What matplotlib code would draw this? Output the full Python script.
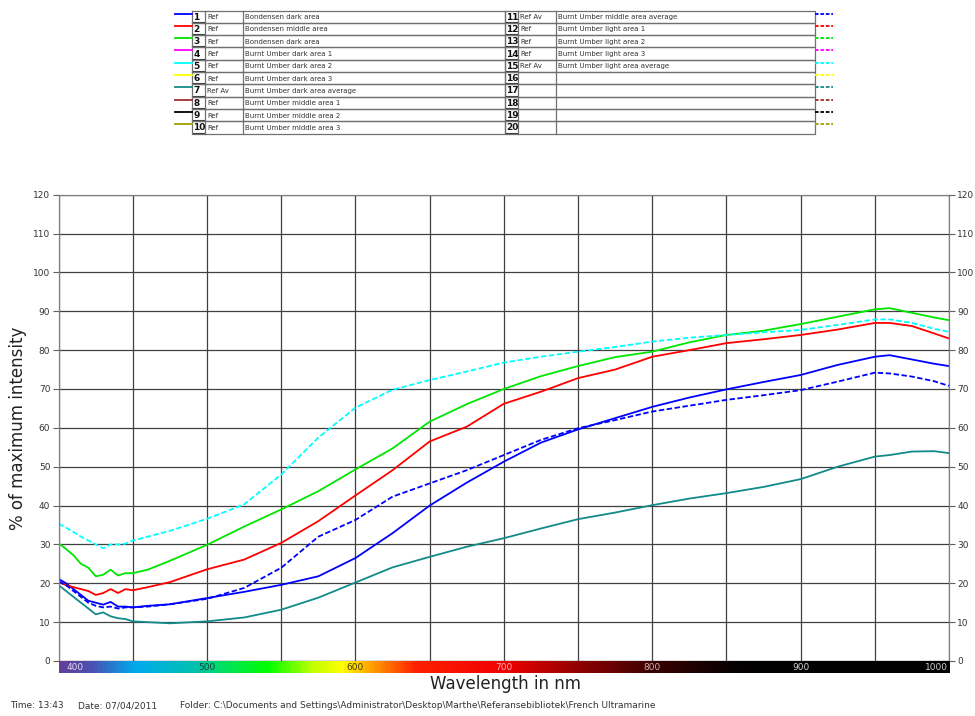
import numpy as np
import matplotlib
matplotlib.use('Agg')
import matplotlib.pyplot as plt
from matplotlib.colors import LinearSegmentedColormap

# wavelength sample points (nm)
wl = [400, 405, 410, 415, 420, 425, 430, 435, 440, 445, 450, 460, 475, 500, 525,
      550, 575, 600, 625, 650, 675, 700, 725, 750, 775, 800, 825, 850, 875, 900,
      925, 950, 960, 975, 990, 1000]

# visible series (% of maximum intensity)
bondensen_dark = [21.1, 20.0, 18.5, 17.0, 15.5, 15.0, 14.5, 15.2, 14.0, 14.0, 13.8, 14.2, 14.6, 16.2, 17.8,
                  19.6, 21.8, 26.5, 32.9, 40.0, 45.9, 51.3, 56.2, 59.6, 62.5, 65.4, 67.8, 69.9, 71.8, 73.6,
                  76.2, 78.3, 78.7, 77.6, 76.5, 75.9]
bondensen_middle = [20.3, 19.5, 19.0, 18.5, 18.0, 17.0, 17.5, 18.5, 17.5, 18.5, 18.2, 19.0, 20.3, 23.6, 26.1,
                    30.4, 36.0, 42.6, 49.1, 56.5, 60.3, 66.2, 69.3, 72.8, 75.0, 78.3, 80.0, 81.8, 82.8, 83.9,
                    85.3, 87.0, 87.0, 86.2, 84.3, 83.0]
bondensen_dark2 = [30.3, 28.8, 27.2, 25.0, 24.0, 21.8, 22.2, 23.5, 22.0, 22.6, 22.6, 23.5, 25.8, 29.9, 34.6,
                   39.0, 43.7, 49.3, 54.7, 61.6, 66.1, 70.0, 73.3, 75.9, 78.2, 79.6, 82.0, 83.9, 85.0, 86.7,
                   88.6, 90.5, 90.8, 89.6, 88.4, 87.7]
umber_dark_avg = [19.5, 18.0, 16.5, 15.0, 13.5, 12.0, 12.5, 11.5, 11.0, 10.8, 10.2, 10.0, 9.7, 10.2, 11.2,
                  13.2, 16.3, 20.2, 24.1, 26.8, 29.4, 31.6, 34.1, 36.5, 38.2, 40.1, 41.8, 43.2, 44.8, 46.8,
                  50.0, 52.6, 53.0, 53.9, 54.0, 53.5]
umber_middle_avg = [20.5, 19.5, 18.0, 16.5, 15.0, 14.2, 13.8, 14.0, 13.5, 13.8, 13.8, 14.0, 14.6, 16.0, 18.8,
                    24.0, 32.0, 36.3, 42.3, 45.7, 49.1, 53.0, 56.9, 59.9, 62.0, 64.2, 65.7, 67.2, 68.4, 69.7,
                    71.9, 74.2, 74.0, 73.2, 72.0, 70.8]
umber_light_avg = [35.3, 34.3, 33.2, 32.0, 31.0, 30.0, 29.0, 30.0, 30.0, 30.2, 31.0, 32.0, 33.5, 36.6, 40.3,
                   48.0, 57.5, 65.2, 69.8, 72.3, 74.5, 76.8, 78.3, 79.6, 80.8, 82.2, 83.2, 83.9, 84.6, 85.2,
                   86.5, 87.9, 87.9, 87.0, 85.5, 84.7]

# legend table contents
left_nums = list(range(1, 11))
left_refs = ['Ref', 'Ref', 'Ref', 'Ref', 'Ref', 'Ref', 'Ref Av', 'Ref', 'Ref', 'Ref']
left_names = ['Bondensen dark area', 'Bondensen middle area', 'Bondensen dark area',
              'Burnt Umber dark area 1', 'Burnt Umber dark area 2', 'Burnt Umber dark area 3',
              'Burnt Umber dark area average', 'Burnt Umber middle area 1',
              'Burnt Umber middle area 2', 'Burnt Umber middle area 3']
right_nums = list(range(11, 21))
right_refs = ['Ref Av', 'Ref', 'Ref', 'Ref', 'Ref Av', '', '', '', '', '']
right_names = ['Burnt Umber middle area average', 'Burnt Umber light area 1',
               'Burnt Umber light area 2', 'Burnt Umber light area 3',
               'Burnt Umber light area average', '', '', '', '', '']
slot_colors = ['#0000ff', '#ff0000', '#00e600', '#ff00ff', '#00ffff',
               '#ffff00', '#128a8a', '#a03030', '#000000', '#a0a000']

# spectrum bar colour stops
spec_nm = [400, 420, 450, 490, 510, 540, 570, 590, 610, 640, 700, 750, 800, 850, 870, 1000]
spec_col = ['#60409a', '#4a50b0', '#00aaee', '#00c0b0', '#00e060', '#00ff00', '#c0ff00',
            '#ffff00', '#ffa000', '#ff2000', '#f00000', '#900000', '#3a0000', '#0a0000',
            '#000000', '#000000']

W, H = 975, 716
fig = plt.figure(figsize=(W / 100, H / 100), dpi=100)
fig.patch.set_facecolor('white')

# main plot
L, R, T, B = 58.7, 949, 194.7, 661
ax = fig.add_axes([L / W, 1 - B / H, (R - L) / W, (B - T) / H])
dash = (0, (3, 1.4))
ax.plot(wl, umber_dark_avg, color='#128a8a', lw=1.3)
ax.plot(wl, bondensen_dark, color='#0000ff', lw=1.3)
ax.plot(wl, bondensen_middle, color='#ff0000', lw=1.3)
ax.plot(wl, bondensen_dark2, color='#00e600', lw=1.3)
ax.plot(wl, umber_middle_avg, color='#0000ff', lw=1.3, linestyle=dash)
ax.plot(wl, umber_light_avg, color='#00ffff', lw=1.3, linestyle=dash)

ax.set_xlim(400, 1000)
ax.set_ylim(0, 120)
ax.set_xticks(np.arange(400, 1001, 50))
ax.set_yticks(np.arange(0, 121, 10))
ax.grid(True, color='#404040', lw=0.9)
ax.tick_params(axis='x', bottom=False, labelbottom=False)
ax.tick_params(axis='y', direction='out', length=4, width=0.8, color='#606060',
               labelsize=6.5, labelcolor='#333333', right=True, labelright=True, pad=2)
for s in ax.spines.values():
    s.set_color('#808080')
    s.set_linewidth(0.9)
fig.text(18 / W, 1 - 428 / H, '% of maximum intensity', rotation=90, ha='center',
         va='center', fontsize=12, color='#222222')

# spectrum bar under the axis
bar = fig.add_axes([L / W, 1 - 673 / H, (R - L) / W, 12 / H])
pos = [(n - 400) / 600 for n in spec_nm]
cmap = LinearSegmentedColormap.from_list('spec', list(zip(pos, spec_col)))
bar.imshow(np.linspace(0, 1, 600)[None, :], cmap=cmap, aspect='auto',
           extent=[400, 1000, 0, 1])
bar.set_xlim(400, 1000)
bar.axis('off')
bar_labels = {400: ('#e0d8f0', 'left'), 500: ('#204040', 'center'), 600: ('#404000', 'center'),
              700: ('#ffb0b0', 'center'), 800: ('#d0b0b0', 'center'), 900: ('#d0d0d0', 'center'),
              1000: ('#d0d0d0', 'right')}
for nm, (c, ha) in bar_labels.items():
    xx = nm + 5 if ha == 'left' else (nm - 1 if ha == 'right' else nm)
    bar.text(xx, 0.45, str(nm), color=c, ha=ha, va='center', fontsize=6.5)

fig.text(505 / W, 1 - 684 / H, 'Wavelength in nm', ha='center', va='center',
         fontsize=12, color='#222222')

# footer
fig.text(10 / W, 1 - 706 / H, 'Time: 13:43', fontsize=6.5, color='#333333', va='center')
fig.text(78 / W, 1 - 706 / H, 'Date: 07/04/2011', fontsize=6.5, color='#333333', va='center')
fig.text(180 / W, 1 - 706 / H,
         'Folder: C:\\Documents and Settings\\Administrator\\Desktop\\Marthe\\Referansebibliotek\\French Ultramarine',
         fontsize=6.5, color='#333333', va='center')

# legend table at the top (pixel coordinates)
lg = fig.add_axes([0, 0, 1, 1])
lg.set_xlim(0, W)
lg.set_ylim(H, 0)
lg.axis('off')
top, rh = 10.5, 12.3
gcol = '#707070'


def draw_table(x0, xn, xr, x1, nums, refs, names):
    for i in range(len(nums)):
        y0 = top + i * rh
        lg.plot([x0, x1, x1, x0, x0], [y0, y0, y0 + rh, y0 + rh, y0], color=gcol, lw=0.9)
        lg.plot([xn, xn], [y0, y0 + rh], color=gcol, lw=0.9)
        lg.plot([xr, xr], [y0, y0 + rh], color=gcol, lw=0.9)
        lg.plot([x0 + 1, xn - 1], [y0 + rh - 1, y0 + rh - 1], color='#404040', lw=0.8)
        yc = y0 + rh / 2 + 0.5
        lg.text(x0 + 1.5, yc, str(nums[i]), fontsize=6.5, fontweight='bold', va='center', color='#111111')
        lg.text(xn + 2, yc, refs[i], fontsize=5, va='center', color='#333333')
        lg.text(xr + 2, yc, names[i], fontsize=5, va='center', color='#333333')


draw_table(192, 205, 243, 505, left_nums, left_refs, left_names)
draw_table(505, 518, 556, 815, right_nums, right_refs, right_names)
for i, c in enumerate(slot_colors):
    yc = top + i * rh + 3
    lg.plot([175, 192], [yc, yc], color=c, lw=1.3)
    lg.plot([815, 833], [yc, yc], color=c, lw=1.3, linestyle=(0, (2, 1)))

fig.savefig('out.png', dpi=100)
